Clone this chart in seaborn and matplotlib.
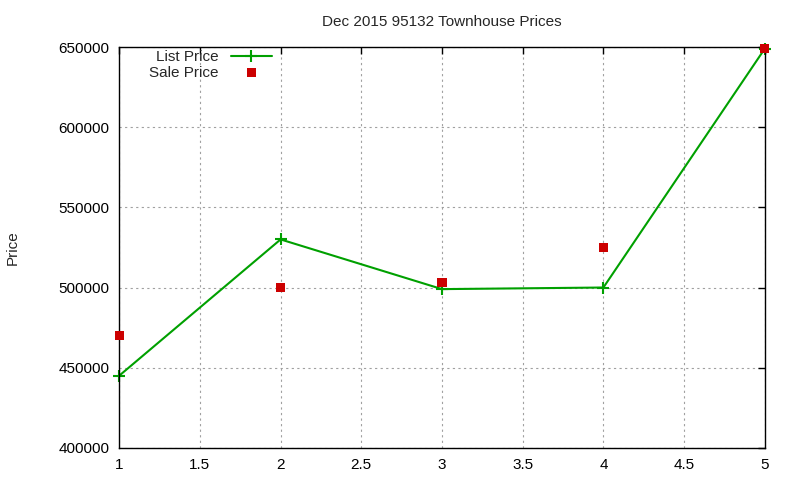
import matplotlib
matplotlib.use('Agg')
import matplotlib.pyplot as plt
import matplotlib.ticker as mticker
import seaborn as sns
import pandas as pd

# Dec 2015 95132 townhouse sales
sale_index = [1, 2, 3, 4, 5]
list_price = [445000, 530000, 499000, 500000, 649000]
sale_price = [470000, 500000, 503000, 525000, 649000]

sns.set_style('white')
plt.rcParams['font.family'] = ['Liberation Sans', 'DejaVu Sans']

df = pd.DataFrame({'n': sale_index, 'list': list_price, 'sale': sale_price})

fig = plt.figure(figsize=(8, 4.8), dpi=100)
ax = fig.add_axes([0.149, 0.067, 0.807, 0.835])

sns.lineplot(data=df, x='n', y='list', ax=ax, color='#00a000', linewidth=1.5,
             marker='+', markersize=8, markeredgewidth=1.5,
             markeredgecolor='#00a000', label='List Price', clip_on=False)
sns.scatterplot(data=df, x='n', y='sale', ax=ax, color='#cc0000', marker='s',
                s=45, edgecolor='none', label='Sale Price', zorder=3,
                clip_on=False)

ax.set_xlim(1, 5)
ax.set_ylim(400000, 650000)
ax.xaxis.set_major_locator(mticker.MultipleLocator(0.5))
ax.xaxis.set_major_formatter(mticker.FuncFormatter(lambda v, p: f'{v:g}'))
ax.yaxis.set_major_locator(mticker.MultipleLocator(50000))
ax.yaxis.set_major_formatter(mticker.FuncFormatter(lambda v, p: f'{int(v)}'))

ax.grid(True, color='#a0a0a0', linestyle=(0, (2, 3)), linewidth=0.8)
ax.tick_params(direction='in', length=5, width=1, top=True, right=True,
               labelsize=11, colors='black', pad=7)
for s in ax.spines.values():
    s.set_color('black')
    s.set_linewidth(1)

ax.set_xlabel('')
ax.set_ylabel('Price', fontsize=11, labelpad=28)
ax.set_title('Dec 2015 95132 Townhouse Prices', fontsize=11, pad=15)

ax.legend(loc='upper left', bbox_to_anchor=(0.032, 1.015), frameon=False,
          markerfirst=False, fontsize=11, handlelength=2.7, labelspacing=0.1,
          borderaxespad=0.2)

fig.savefig('out.png', dpi=100)
